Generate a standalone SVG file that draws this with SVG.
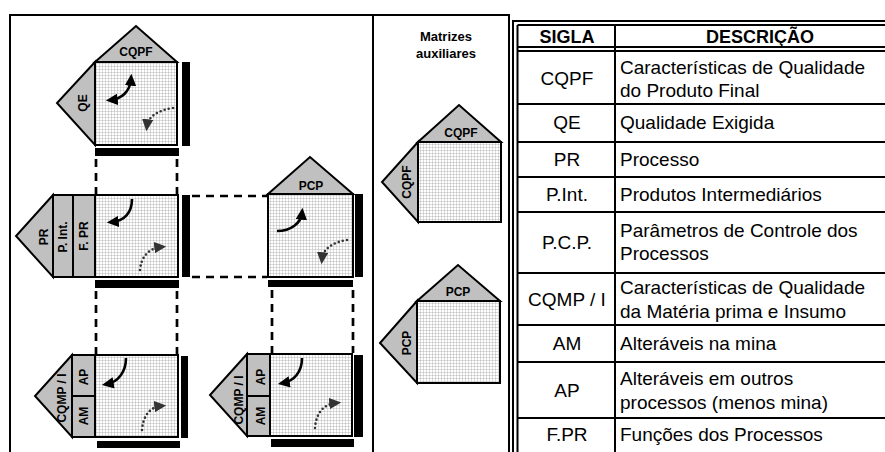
<svg xmlns="http://www.w3.org/2000/svg" width="885" height="452" viewBox="0 0 885 452">
<defs>
<pattern id="grid" width="3" height="3" patternUnits="userSpaceOnUse">
<rect width="3" height="3" fill="#ffffff"/>
<path d="M3 0 L0 0 L0 3" fill="none" stroke="#9a9a9a" stroke-width="0.7"/>
</pattern>
<marker id="ah" markerWidth="4.6" markerHeight="4.4" refX="2.6" refY="2.2" orient="auto-start-reverse" markerUnits="strokeWidth">
<path d="M0,0 L4.6,2.2 L0,4.4 Z" fill="#000"/>
</marker>
<marker id="ahg" markerWidth="4.6" markerHeight="4.4" refX="2.6" refY="2.2" orient="auto" markerUnits="strokeWidth">
<path d="M0,0 L4.6,2.2 L0,4.4 Z" fill="#333"/>
</marker>
</defs>
<style>
.frame{fill:none;stroke:#000;stroke-width:2}
.sq{fill:url(#grid);stroke:#000;stroke-width:2}
.tri{fill:#c0c0c0;stroke:#000;stroke-width:2;stroke-linejoin:miter}
.bar{fill:#000}
.lbl{font-family:"Liberation Sans",Arial,sans-serif;font-weight:bold;font-size:12px;fill:#000;text-anchor:middle;dominant-baseline:central}
.big{font-size:13px}
.arr{fill:none;stroke:#000;stroke-width:2.6;marker-end:url(#ah)}
.dot{fill:none;stroke:#333;stroke-width:2.6;stroke-dasharray:0 4.2;stroke-linecap:round;marker-end:url(#ahg)}
.dash{fill:none;stroke:#000;stroke-width:2.7;stroke-dasharray:8 6}
.tl{stroke:#000;stroke-width:2}
.tt{font-family:"Liberation Sans",Arial,sans-serif;font-size:19px;fill:#000}
.tc{text-anchor:middle}
.th{font-weight:bold;font-size:18px}
</style>

<g id="frames">
<path class="frame" d="M10,452 V15 H509 V452"/>
<line class="frame" x1="373" y1="15" x2="373" y2="452"/>
<text class="lbl big" x="446" y="36">Matrizes</text>
<text class="lbl big" x="446" y="53">auxiliares</text>
</g>

<g id="connectors">
<line class="dash" x1="96" y1="159" x2="96" y2="194"/>
<line class="dash" x1="177" y1="159" x2="177" y2="194"/>
<line class="dash" x1="192" y1="196" x2="267" y2="196"/>
<line class="dash" x1="192" y1="277" x2="267" y2="277"/>
<line class="dash" x1="96" y1="291" x2="96" y2="354"/>
<line class="dash" x1="177" y1="291" x2="177" y2="354"/>
<line class="dash" x1="272" y1="290" x2="272" y2="353"/>
<line class="dash" x1="353" y1="290" x2="353" y2="353"/>
</g>

<g id="m-cqpf-qe">
<polygon class="tri" points="95,62 136,26 177,62"/>
<polygon class="tri" points="95,62 57,103 95,145"/>
<rect class="sq" x="95" y="62" width="82" height="83"/>
<rect class="bar" x="182" y="62" width="8" height="84"/>
<rect class="bar" x="95" y="148" width="84" height="8"/>
<text class="lbl" x="136" y="52">CQPF</text>
<text class="lbl" x="83" y="103" transform="rotate(-90 83 103)">QE</text>
<path class="arr" d="M111,100 C121,99 130,92 131,79" style="marker-start:url(#ah)"/>
<path class="dot" d="M173,108 C158,110 148,117 147,126"/>
</g>

<g id="m-pr">
<polygon class="tri" points="53,195 16,236 53,277"/>
<rect class="tri" x="53" y="195" width="20" height="82"/>
<rect class="tri" x="73" y="195" width="22" height="82"/>
<rect class="sq" x="95" y="195" width="83" height="82"/>
<rect class="bar" x="182" y="195" width="8" height="82"/>
<rect class="bar" x="95" y="280" width="84" height="8"/>
<text class="lbl" x="44" y="237" transform="rotate(-90 44 237)">PR</text>
<text class="lbl" x="63" y="237" transform="rotate(-90 63 237)">P. Int.</text>
<text class="lbl" x="84" y="236" transform="rotate(-90 84 236)">F. PR</text>
<path class="arr" d="M132,199 C132,213 124,221 112,222"/>
<path class="dot" d="M140,270 C141,256 150,248 161,247"/>
</g>

<g id="m-pcp">
<polygon class="tri" points="268,194 310,157 353,194"/>
<rect class="sq" x="268" y="194" width="85" height="83"/>
<rect class="bar" x="355" y="194" width="8" height="83"/>
<rect class="bar" x="268" y="280" width="85" height="7"/>
<text class="lbl" x="311" y="186">PCP</text>
<path class="arr" d="M277,231 C291,231 301,223 302,213"/>
<path class="dot" d="M347,240 C333,242 323,249 322,259"/>
</g>

<g id="m-cqmp-1">
<polygon class="tri" points="72,355 35,396 72,437"/>
<rect class="tri" x="72" y="355" width="23" height="41"/>
<rect class="tri" x="72" y="396" width="23" height="41"/>
<rect class="sq" x="95" y="355" width="83" height="82"/>
<rect class="bar" x="181" y="356" width="7" height="82"/>
<rect class="bar" x="97" y="441" width="83" height="7"/>
<text class="lbl" x="62" y="398" transform="rotate(-90 62 398)">CQMP / I</text>
<text class="lbl" x="84" y="377" transform="rotate(-90 84 377)">AP</text>
<text class="lbl" x="84" y="416" transform="rotate(-90 84 416)">AM</text>
<path class="arr" d="M126,358 C126,372 118,382 107,384"/>
<path class="dot" d="M142,430 C143,416 150,407 161,406"/>
</g>

<g id="m-cqmp-2">
<polygon class="tri" points="247,354 210,395 247,436"/>
<rect class="tri" x="247" y="354" width="23" height="42"/>
<rect class="tri" x="247" y="396" width="23" height="40"/>
<rect class="sq" x="270" y="354" width="82" height="82"/>
<rect class="bar" x="354" y="355" width="9" height="82"/>
<rect class="bar" x="271" y="439" width="83" height="8"/>
<text class="lbl" x="239" y="400" transform="rotate(-90 239 400)">CQMP / I</text>
<text class="lbl" x="261" y="377" transform="rotate(-90 261 377)">AP</text>
<text class="lbl" x="261" y="416" transform="rotate(-90 261 416)">AM</text>
<path class="arr" d="M302,358 C302,372 294,381 283,383"/>
<path class="dot" d="M315,428 C316,414 323,404 336,403"/>
</g>

<g id="aux-cqpf">
<polygon class="tri" points="418,142 459,105 501,142"/>
<polygon class="tri" points="418,142 382,182 418,222"/>
<rect class="sq" x="418" y="142" width="83" height="80"/>
<text class="lbl" x="461" y="133">CQPF</text>
<text class="lbl" x="407" y="182" transform="rotate(-90 407 182)">CQPF</text>
</g>

<g id="aux-pcp">
<polygon class="tri" points="417,301 458,265 500,301"/>
<polygon class="tri" points="417,301 380,343 417,383"/>
<rect class="sq" x="417" y="301" width="83" height="82"/>
<text class="lbl" x="458" y="292">PCP</text>
<text class="lbl" x="407" y="343" transform="rotate(-90 407 343)">PCP</text>
</g>

<g id="table">
<line class="tl" x1="513" y1="21" x2="885" y2="21" stroke-width="2.5"/>
<line class="tl" x1="513" y1="20" x2="513" y2="452" stroke-width="2.5"/>
<line class="tl" x1="517.5" y1="25" x2="885" y2="25" stroke-width="1.5"/>
<line class="tl" x1="517.5" y1="25" x2="517.5" y2="452" stroke-width="1.5"/>
<line class="tl" x1="517" y1="47" x2="885" y2="47"/>
<line class="tl" x1="517" y1="51" x2="885" y2="51" stroke-width="1.5"/>
<line class="tl" x1="615" y1="25" x2="615" y2="452"/>
<line class="tl" x1="517" y1="104" x2="885" y2="104"/>
<line class="tl" x1="517" y1="142" x2="885" y2="142"/>
<line class="tl" x1="517" y1="177" x2="885" y2="177"/>
<line class="tl" x1="517" y1="212" x2="885" y2="212"/>
<line class="tl" x1="517" y1="273" x2="885" y2="273"/>
<line class="tl" x1="517" y1="325" x2="885" y2="325"/>
<line class="tl" x1="517" y1="362" x2="885" y2="362"/>
<line class="tl" x1="517" y1="418" x2="885" y2="418"/>
<text class="tt tc th" x="567" y="43">SIGLA</text>
<text class="tt tc th" x="760" y="43">DESCRIÇÃO</text>
<text class="tt tc" x="567" y="85">CQPF</text>
<text class="tt" x="620" y="74">Características de Qualidade</text>
<text class="tt" x="620" y="97">do Produto Final</text>
<text class="tt tc" x="567" y="129">QE</text>
<text class="tt" x="620" y="129">Qualidade Exigida</text>
<text class="tt tc" x="567" y="166">PR</text>
<text class="tt" x="620" y="166">Processo</text>
<text class="tt tc" x="567" y="201">P.Int.</text>
<text class="tt" x="620" y="201">Produtos Intermediários</text>
<text class="tt tc" x="567" y="249">P.C.P.</text>
<text class="tt" x="620" y="237">Parâmetros de Controle dos</text>
<text class="tt" x="620" y="260">Processos</text>
<text class="tt tc" x="567" y="306">CQMP / I</text>
<text class="tt" x="620" y="294">Características de Qualidade</text>
<text class="tt" x="620" y="318">da Matéria prima e Insumo</text>
<text class="tt tc" x="567" y="350">AM</text>
<text class="tt" x="620" y="350">Alteráveis na mina</text>
<text class="tt tc" x="567" y="397">AP</text>
<text class="tt" x="620" y="385">Alteráveis em outros</text>
<text class="tt" x="620" y="409">processos (menos mina)</text>
<text class="tt tc" x="567" y="441">F.PR</text>
<text class="tt" x="620" y="441">Funções dos Processos</text>
</g>
</svg>
